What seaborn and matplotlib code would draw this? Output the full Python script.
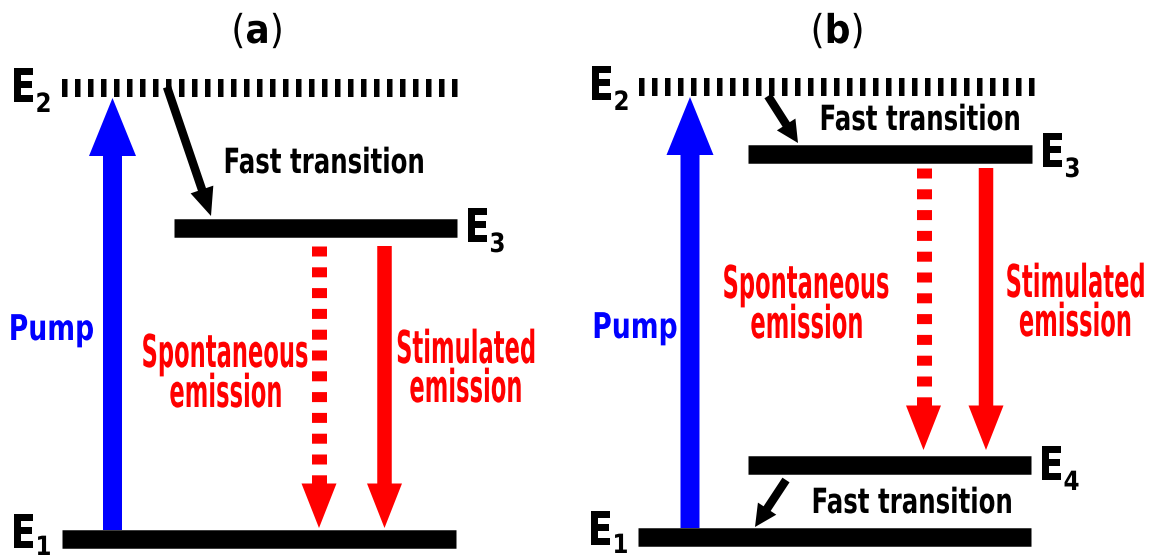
import matplotlib
matplotlib.use('Agg')
import matplotlib.pyplot as plt
import matplotlib.patheffects as pe
from matplotlib.transforms import Affine2D
import seaborn as sns

sns.set_theme(style='white')
plt.rcParams['font.family'] = ['DejaVu Sans']
plt.rcParams['mathtext.fontset'] = 'dejavusans'
plt.rcParams['lines.scale_dashes'] = False

PT = 0.72  # points per pixel at dpi 100

# energy levels: panel (a) E2, E3, E1 then panel (b) E2, E3, E4, E1
level_sub = ['2', '3', '1', '2', '3', '4', '1']
level_y = [88, 227.5, 539, 86.5, 154, 465, 537]
level_x0 = [62, 174, 62, 639, 748, 748, 638]
level_x1 = [460, 457, 456, 1036, 1032, 1031, 1031]
level_dashed = [True, False, False, True, False, False, False]
label_x = [23.5, 477.5, 23.5, 601.5, 1052.5, 1051.5, 600.5]
label_base = [102, 242, 548, 100, 167, 480, 545]
sub_base = [112, 252, 555, 110, 177, 490, 553]

# pump arrows (a), (b)
pump_x = [112.5, 690]
pump_from = [530, 528]
pump_to = [98, 97]

# fast (non-radiative) transitions
fast_x0 = [167, 768, 786]
fast_y0 = [87, 96, 480]
fast_x1 = [211, 798, 755]
fast_y1 = [216, 143, 527]

# spontaneous (dashed) and stimulated (solid) emission
spont_x = [319, 923.5]
stim_x = [384.5, 986]
emit_top = [246, 168]
emit_tip = [528, 450]

# text
panel_names = [r'$(\mathbf{a})$', r'$(\mathbf{b})$']
panel_x = [257, 837]
fast_tx = [323.5, 919.5, 911.5]
fast_ty = [173, 130, 513]
pump_tx = [51.5, 635]
pump_ty = [340, 338]
spont_tx = [225, 806]
spont_ty = [367, 298]
stim_tx = [466, 1075.5]
stim_ty = [363, 297]


class Stretch(pe.AbstractPathEffect):
    # tall narrow lettering like the original
    def __init__(self, sy):
        super().__init__()
        self.sy = sy

    def draw_path(self, renderer, gc, tpath, affine, rgbFace=None):
        renderer.draw_path(gc, tpath, Affine2D().scale(1, self.sy) + affine, rgbFace)


def label(ax, x, y, s, size, sy, color='black', weight='bold'):
    ax.text(x, y, s, fontsize=size, color=color, fontweight=weight,
            ha='center', va='baseline', path_effects=[Stretch(sy)])


fig = plt.figure(figsize=(11.55, 5.6), dpi=100)
ax = fig.add_axes([0, 0, 1, 1])
ax.set_xlim(0, 1155)
ax.set_ylim(560, 0)
ax.axis('off')

# levels
for i in range(len(level_y)):
    if level_dashed[i]:
        sns.lineplot(x=[level_x0[i], level_x1[i]], y=[level_y[i], level_y[i]], ax=ax,
                     estimator=None, sort=False, color='black', linewidth=18 * PT,
                     linestyle=(0, (5.5 * PT, 7.5 * PT)), dash_capstyle='butt')
    else:
        sns.lineplot(x=[level_x0[i], level_x1[i]], y=[level_y[i], level_y[i]], ax=ax,
                     estimator=None, sort=False, color='black', linewidth=18.5 * PT,
                     solid_capstyle='butt')
    label(ax, label_x[i], label_base[i], 'E', 26.4, 1.27)
    label(ax, label_x[i] + 20, sub_base[i], level_sub[i], 16.6, 1.15)

# pump
for i in range(2):
    ax.arrow(pump_x[i], pump_from[i], 0, pump_to[i] - pump_from[i], width=19,
             head_width=47, head_length=58, length_includes_head=True,
             color='#0000ff', linewidth=0)

# fast transitions
for i in range(3):
    big = i == 0
    ax.arrow(fast_x0[i], fast_y0[i], fast_x1[i] - fast_x0[i], fast_y1[i] - fast_y0[i],
             width=8.5, head_width=24 if big else 22, head_length=28 if big else 22,
             length_includes_head=True, color='black', linewidth=0)

# emission arrows
for i in range(2):
    head = 44.5
    sns.lineplot(x=[spont_x[i], spont_x[i]], y=[emit_top[i], emit_tip[i] - head], ax=ax,
                 estimator=None, sort=False, color='#ff0000', linewidth=15 * PT,
                 linestyle=(0, (10 * PT, 10.8 * PT)), dash_capstyle='butt')
    ax.arrow(spont_x[i], emit_tip[i] - head, 0, head, width=15, head_width=35,
             head_length=head, length_includes_head=True, color='#ff0000', linewidth=0)
    ax.arrow(stim_x[i], emit_top[i], 0, emit_tip[i] - emit_top[i], width=14.5,
             head_width=35, head_length=head, length_includes_head=True,
             color='#ff0000', linewidth=0)

# texts
for i in range(2):
    ax.text(panel_x[i], 43, panel_names[i], fontsize=26, color='black',
            ha='center', va='baseline', path_effects=[Stretch(1.1)])
    label(ax, pump_tx[i], pump_ty[i], 'Pump', 19.2, 1.33, color='#0000ff')
    label(ax, spont_tx[i], spont_ty[i], 'Spontaneous', 16.3, 2.0, color='#ff0000')
    label(ax, spont_tx[i] + 1, spont_ty[i] + 40, 'emission', 16.3, 2.0, color='#ff0000')
    label(ax, stim_tx[i], stim_ty[i], 'Stimulated', 16.3, 2.0, color='#ff0000')
    label(ax, stim_tx[i], stim_ty[i] + 39, 'emission', 16.3, 2.0, color='#ff0000')
for i in range(3):
    label(ax, fast_tx[i], fast_ty[i], 'Fast transition', 17.6, 1.42)

fig.savefig('out.png', dpi=100)
